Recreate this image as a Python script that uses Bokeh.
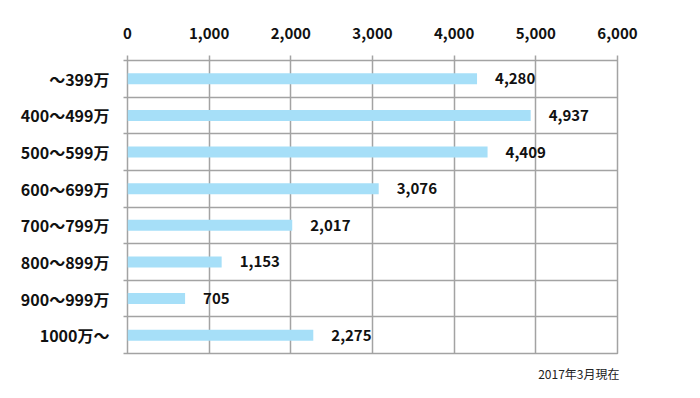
from bokeh.plotting import figure
from bokeh.models import ColumnDataSource, FixedTicker, NumeralTickFormatter, Title
from bokeh.core.properties import value
from bokeh.embed import file_html
from bokeh.resources import INLINE

categories = ["～399万", "400～499万", "500～599万", "600～699万", "700～799万", "800～899万", "900～999万", "1000万～"]
counts = [4280, 4937, 4409, 3076, 2017, 1153, 705, 2275]
x_ticks = [0, 1000, 2000, 3000, 4000, 5000, 6000]
footnote = "2017年3月現在"

n = len(categories)
ypos = [n - i - 0.5 for i in range(n)]
labels = [f"{v:,}" for v in counts]

src = ColumnDataSource(dict(y=ypos, v=counts, lab=labels))

FONT = "Noto Sans CJK JP"
GRID = "#a3a3a3"

p = figure(width=684, height=390, output_backend="svg", toolbar_location=None,
           x_range=(0, 6000), y_range=(0, n), x_axis_location="above",
           min_border_left=127, min_border_right=67, min_border_top=60, min_border_bottom=32)

p.hbar(y="y", right="v", left=0, height=0.3, source=src, color="#a6dff8", line_color=None)
p.text(x="v", y="y", text="lab", source=src, x_offset=18, text_baseline="middle",
       text_font=value(FONT), text_font_style="bold", text_font_size="15px", text_color="#111111")

xa = p.xaxis[0]
xa.ticker = FixedTicker(ticks=x_ticks)
xa.formatter = NumeralTickFormatter(format="0,0")
xa.major_tick_out = 5
xa.major_tick_in = 0
xa.minor_tick_out = 0
xa.major_tick_line_color = GRID
xa.major_tick_line_width = 1.5
xa.axis_line_color = None
xa.major_label_standoff = 17
xa.major_label_text_font = FONT
xa.major_label_text_font_style = "bold"
xa.major_label_text_font_size = "15px"
xa.major_label_text_color = "#111111"

ya = p.yaxis[0]
ya.ticker = FixedTicker(ticks=ypos, minor_ticks=list(range(n + 1)))
ya.major_label_overrides = {y: c for y, c in zip(ypos, categories)}
ya.major_tick_out = 0
ya.major_tick_in = 0
ya.minor_tick_out = 4
ya.minor_tick_in = 0
ya.minor_tick_line_color = GRID
ya.minor_tick_line_width = 1.5
ya.axis_line_color = None
ya.major_label_standoff = 14
ya.major_label_text_font = FONT
ya.major_label_text_font_style = "bold"
ya.major_label_text_font_size = "16px"
ya.major_label_text_color = "#111111"

p.xgrid.ticker = FixedTicker(ticks=x_ticks)
p.xgrid.grid_line_color = GRID
p.xgrid.grid_line_width = 1.5
p.ygrid.ticker = FixedTicker(ticks=list(range(n + 1)))
p.ygrid.grid_line_color = GRID
p.ygrid.grid_line_width = 1.5

p.outline_line_color = GRID
p.outline_line_width = 1.5
p.outline_line_alpha = 1.0

t = Title(text=footnote, align="right", text_font=FONT, text_font_style="normal",
          text_font_size="12px", text_color="#222222", offset=-2, standoff=18)
p.add_layout(t, "below")

p.background_fill_color = "white"
p.border_fill_color = "white"

open("out.html", "w").write(file_html(p, INLINE))
